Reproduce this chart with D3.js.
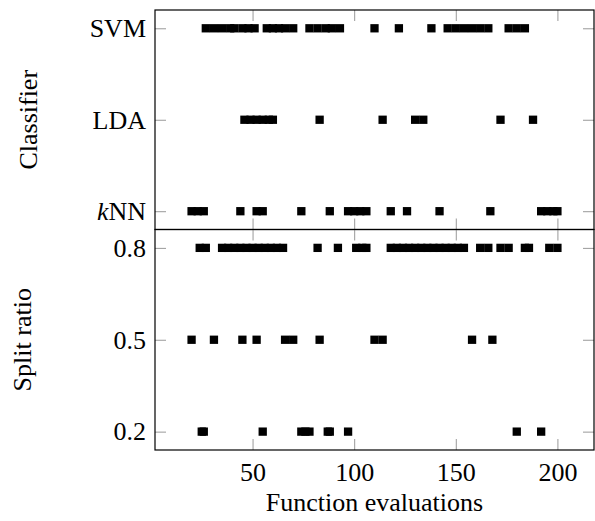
<!DOCTYPE html>
<html>
<head>
<meta charset="utf-8">
<script src="https://cdn.jsdelivr.net/npm/d3@7"></script>
<style>
  body { margin: 0; background: #fff; }
  .tick line { stroke: #999; }
</style>
</head>
<body>
<svg class="chart" width="595" height="521"></svg>
<script>
// classifier panel: function evaluations at which each classifier was picked
const classifiers = ["kNN", "LDA", "SVM"]
const knnEvals = [20, 23, 26, 44, 52, 55, 74, 88, 97, 100, 103, 106, 118, 126, 142, 167, 192, 195, 198, 200]
const ldaEvals = [46, 49, 52, 55, 58, 60, 83, 114, 130, 134, 172, 188]
const svmEvals = [27, 31, 35, 39, 41, 45, 48, 51, 57, 60, 63, 66, 70, 78, 82, 86, 89, 93,
  110, 122, 138, 146, 150, 154, 158, 162, 166, 176, 180, 184]

// split ratio panel
const splitRatios = [0.2, 0.5, 0.8]
const split02Evals = [25, 26, 55, 74, 76, 78, 87, 88, 97, 180, 192]
const split05Evals = [20, 31, 45, 52, 66, 70, 83, 110, 114, 158, 168]
const split08Evals = [24, 27, 35, 38, 41, 44, 47, 50, 53, 56, 59, 62, 65, 82, 92, 101, 104, 106,
  118, 121, 124, 127, 130, 133, 136, 139, 142, 145, 148, 151, 154, 162, 166, 172, 176, 184, 186, 196, 200]

const xTicks = [50, 100, 150, 200]

const margin = { left: 155, right: 594 }
const panels = [
  { top: 10, bottom: 229.5, domain: [-0.2, 2.2], ticks: [0, 1, 2],
    format: (d) => classifiers[d], title: "Classifier", titleX: 37, xLabels: false,
    series: [knnEvals, ldaEvals, svmEvals].map((evals, i) => evals.map((e) => [e, i])).flat() },
  { top: 229.5, bottom: 450, domain: [0.14, 0.86], ticks: splitRatios,
    format: d3.format(".1f"), title: "Split ratio", titleX: 31, xLabels: true,
    series: [split02Evals, split05Evals, split08Evals].map((evals, i) => evals.map((e) => [e, splitRatios[i]])).flat() }
]

const font = "Liberation Serif"
const fontSize = 26
const tickLen = 11
const markerSize = 8.3

const svg = d3.select("svg.chart")
const x = d3.scaleLinear().domain([2, 218]).range([margin.left, margin.right])

panels.forEach((p) => {
  const y = d3.scaleLinear().domain(p.domain).range([p.bottom, p.top])
  const g = svg.append("g")

  const left = g.append("g")
    .attr("transform", `translate(${margin.left},0)`)
    .call(d3.axisLeft(y).tickValues(p.ticks).tickFormat(p.format).tickSize(-tickLen).tickPadding(9))
  g.append("g")
    .attr("transform", `translate(${margin.right},0)`)
    .call(d3.axisRight(y).tickValues(p.ticks).tickFormat("").tickSize(-tickLen))
  g.append("g")
    .attr("transform", `translate(0,${p.top})`)
    .call(d3.axisTop(x).tickValues(xTicks).tickFormat("").tickSize(-tickLen))
  g.append("g")
    .attr("transform", `translate(0,${p.bottom})`)
    .call(d3.axisBottom(x).tickValues(xTicks).tickFormat(p.xLabels ? d3.format("d") : "")
      .tickSize(-tickLen).tickPadding(13))

  g.selectAll(".domain").remove()
  g.selectAll("g").attr("font-family", font).attr("font-size", fontSize)
  g.selectAll(".tick text").attr("font-family", font).attr("font-size", fontSize).attr("fill", "#000")

  // italic k in kNN
  left.selectAll(".tick text").filter((d) => p.format(d) === "kNN")
    .text(null)
    .call((t) => {
      t.append("tspan").attr("font-style", "italic").text("k")
      t.append("tspan").text("NN")
    })

  g.append("rect")
    .attr("x", margin.left)
    .attr("y", p.top)
    .attr("width", margin.right - margin.left)
    .attr("height", p.bottom - p.top)
    .attr("fill", "none")
    .attr("stroke", "#000")
    .attr("stroke-width", 1.2)

  g.selectAll("rect.mark")
    .data(p.series)
    .enter()
    .append("rect")
    .attr("class", "mark")
    .attr("x", (d) => x(d[0]) - markerSize / 2)
    .attr("y", (d) => y(d[1]) - markerSize / 2)
    .attr("width", markerSize)
    .attr("height", markerSize)
    .attr("fill", "#000")

  svg.append("text")
    .attr("transform", `translate(${p.titleX},${(p.top + p.bottom) / 2}) rotate(-90)`)
    .attr("text-anchor", "middle")
    .attr("font-family", font)
    .attr("font-size", fontSize)
    .text(p.title)
})

svg.append("text")
  .attr("x", (margin.left + margin.right) / 2)
  .attr("y", 511)
  .attr("text-anchor", "middle")
  .attr("font-family", font)
  .attr("font-size", fontSize)
  .text("Function evaluations")
</script>
</body>
</html>
